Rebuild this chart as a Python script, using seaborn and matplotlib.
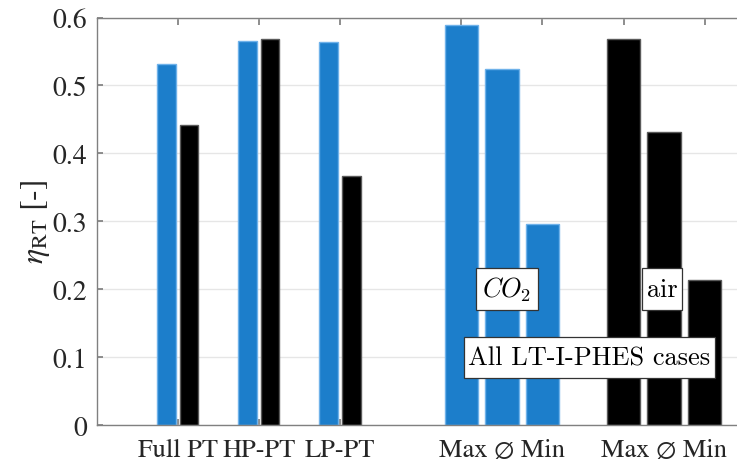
import numpy as np
import pandas as pd
import matplotlib
matplotlib.use("Agg")
import matplotlib.pyplot as plt
from matplotlib.patches import Rectangle
import seaborn as sns

# ---- data ----
cases = ["Full PT", "HP-PT", "LP-PT"]
eta_co2_cases = [0.531, 0.565, 0.564]
eta_air_cases = [0.441, 0.569, 0.366]

stats = ["Max", "Mean", "Min"]
eta_co2_stats = [0.589, 0.524, 0.296]
eta_air_stats = [0.569, 0.432, 0.213]

bottom_labels = ["Full PT", "HP-PT", "LP-PT", "Max \u2205 Min", "Max \u2205 Min"]
ytick_labels = ["0", "0.1", "0.2", "0.3", "0.4", "0.5", "0.6"]

blue = "#1C7ECB"
blue_edge = "#6FB2EA"
black = "#000000"
black_edge = "#5a5a5a"

sns.set_theme(style="white")
plt.rcParams["font.family"] = ["STIXGeneral", "DejaVu Serif"]
plt.rcParams["mathtext.fontset"] = "stix"

fig = plt.figure(figsize=(7.37, 4.64), dpi=100)
ax = fig.add_axes([0.1312, 0.0819, 0.8688, 0.8782])

# left: grouped pairs
left = pd.DataFrame({
    "pos": np.concatenate([np.arange(1, 4), np.arange(1, 4)]).astype(float),
    "eta": eta_co2_cases + eta_air_cases,
    "fluid": ["CO2"] * 3 + ["air"] * 3,
})
sns.barplot(data=left, x="pos", y="eta", hue="fluid", native_scale=True,
            width=0.56, gap=0.18, palette={"CO2": blue, "air": black},
            saturation=1, legend=False, ax=ax, errorbar=None, linewidth=1.0)

# right: statistics groups (Max, Mean, Min)
co2_pos = 4.5 + 0.5 * np.arange(3)
air_pos = 6.5 + 0.5 * np.arange(3)
right = pd.DataFrame({
    "pos": np.concatenate([co2_pos, air_pos]),
    "eta": eta_co2_stats + eta_air_stats,
    "fluid": ["CO2"] * 3 + ["air"] * 3,
})
sns.barplot(data=right, x="pos", y="eta", hue="fluid", native_scale=True,
            dodge=False, width=0.82, palette={"CO2": blue, "air": black},
            saturation=1, legend=False, ax=ax, errorbar=None, linewidth=1.0)

for p in ax.patches:
    fc = p.get_facecolor()
    p.set_edgecolor(blue_edge if fc[2] > 0.5 else black_edge)
    p.set_linewidth(1.0)

ax.set_xlim(0, 7.9)
ax.set_ylim(0, 0.6)
ax.set_yticks([float(t) for t in ytick_labels])
ax.set_yticklabels(ytick_labels)
ax.yaxis.grid(True, color="#e6e6e6", linewidth=1.0)
ax.set_axisbelow(True)
ax.set_xlabel("")
ax.set_ylabel(r"$\eta_{\rm RT}$ [-]", fontsize=23, color="#262626", labelpad=0)

for s in ["left", "top", "bottom"]:
    ax.spines[s].set_color("#808080")
    ax.spines[s].set_linewidth(1.0)
ax.spines["right"].set_visible(False)

ax.tick_params(axis="y", direction="in", length=4, color="#808080",
               labelsize=20, labelcolor="#262626", pad=7, left=True)

ax.set_xticks([1, 2, 3, 5, 7])
ax.set_xticklabels(bottom_labels)
ax.tick_params(axis="x", direction="in", length=4, color="#808080", labelsize=19,
               labelcolor="#262626", pad=9, bottom=True)

top = ax.secondary_xaxis("top")
top.set_xticks([1, 2, 3, 4.5, 5.5, 6.5, 7.5])
top.set_xticklabels([])
top.tick_params(direction="in", length=5, color="#808080")
top.spines["top"].set_visible(False)

# annotation boxes (x0, y0, x1, y1 in data units)
def label_box(x0, y0, x1, y1, txt, **kw):
    ax.add_patch(Rectangle((x0, y0), x1 - x0, y1 - y0, facecolor="white",
                           edgecolor="#333333", linewidth=0.9, zorder=5))
    ax.text((x0 + x1) / 2, (y0 + y1) / 2, txt, ha="center", va="center",
            fontsize=19, color="black", zorder=6, **kw)

label_box(4.682, 0.1693, 5.443, 0.2312, r"$CO_2$", math_fontfamily="cm")
label_box(6.732, 0.1693, 7.226, 0.2312, "air", family="cmr10")
label_box(4.530, 0.0692, 7.627, 0.1296, "All LT-I-PHES cases", family="cmr10")

fig.savefig("out.png", dpi=100)
